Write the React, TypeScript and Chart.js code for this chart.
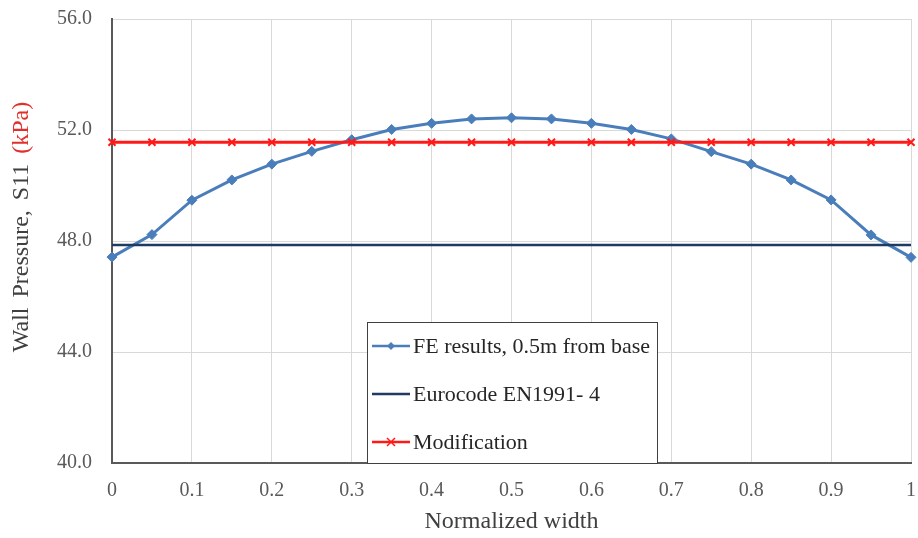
import React, { useEffect, useRef } from 'react';
import { Chart, registerables } from 'chart.js';

Chart.register(...registerables);

// ---- data ----
const xPositions = [0, 0.05, 0.1, 0.15, 0.2, 0.25, 0.3, 0.35, 0.4, 0.45, 0.5, 0.55, 0.6, 0.65, 0.7, 0.75, 0.8, 0.85, 0.9, 0.95, 1];
const feResults = [47.42, 48.23, 49.47, 50.2, 50.77, 51.23, 51.65, 52.02, 52.24, 52.4, 52.44, 52.4, 52.24, 52.02, 51.68, 51.22, 50.77, 50.2, 49.48, 48.22, 47.41];
const eurocodeX = [0, 1];
const eurocodeValues = [47.86, 47.86];
const modificationValues = [51.56, 51.56, 51.56, 51.56, 51.56, 51.56, 51.56, 51.56, 51.56, 51.56, 51.56, 51.56, 51.56, 51.56, 51.56, 51.56, 51.56, 51.56, 51.56, 51.56, 51.56];
const xTickLabels = ['0', '0.1', '0.2', '0.3', '0.4', '0.5', '0.6', '0.7', '0.8', '0.9', '1'];
const yTickLabels = ['40.0', '44.0', '48.0', '52.0', '56.0'];
const seriesNames = ['FE results, 0.5m from base', 'Eurocode EN1991- 4', 'Modification'];

const FONT = '"Liberation Serif", "Times New Roman", serif';
const BLUE = '#4a7ebb';
const NAVY = '#1f3b63';
const RED = '#ff1a1a';

const overlayPlugin = {
  id: 'overlay',
  afterDraw(chart: any) {
    const ctx = chart.ctx as CanvasRenderingContext2D;
    const ca = chart.chartArea;

    // y-axis title with two colours
    ctx.save();
    ctx.translate(22, (ca.top + ca.bottom) / 2 - 14);
    ctx.rotate(-Math.PI / 2);
    ctx.font = '24px ' + FONT;
    (ctx as any).wordSpacing = '4px';
    ctx.textBaseline = 'middle';
    ctx.textAlign = 'left';
    const p1 = 'Wall Pressure, S11 ';
    const p2 = '(kPa)';
    const w1 = ctx.measureText(p1).width;
    const w2 = ctx.measureText(p2).width;
    const sx = -(w1 + w2) / 2;
    ctx.fillStyle = '#404040';
    ctx.fillText(p1, sx, 0);
    ctx.fillStyle = '#e0302c';
    ctx.fillText(p2, sx + w1, 0);
    ctx.restore();

    // legend box
    const bx = ca.left + 255;
    const by = ca.top + 303;
    const bw = 291;
    const bh = ca.bottom - by;
    ctx.save();
    ctx.fillStyle = '#ffffff';
    ctx.fillRect(bx, by, bw, bh);
    ctx.strokeStyle = '#404040';
    ctx.lineWidth = 1;
    ctx.strokeRect(bx + 0.5, by + 0.5, bw - 1, bh);
    const rows = [by + 24, by + 72, by + 120];
    const lx0 = bx + 5;
    const lx1 = bx + 43;
    const mx = (lx0 + lx1) / 2;
    ctx.font = '22px ' + FONT;
    ctx.textBaseline = 'middle';
    ctx.textAlign = 'left';
    // FE
    ctx.strokeStyle = BLUE;
    ctx.lineWidth = 2.5;
    ctx.beginPath(); ctx.moveTo(lx0, rows[0]); ctx.lineTo(lx1, rows[0]); ctx.stroke();
    ctx.fillStyle = BLUE;
    ctx.beginPath();
    ctx.moveTo(mx, rows[0] - 4); ctx.lineTo(mx + 4, rows[0]); ctx.lineTo(mx, rows[0] + 4); ctx.lineTo(mx - 4, rows[0]);
    ctx.closePath(); ctx.fill();
    // Eurocode
    ctx.strokeStyle = NAVY;
    ctx.lineWidth = 2.5;
    ctx.beginPath(); ctx.moveTo(lx0, rows[1]); ctx.lineTo(lx1, rows[1]); ctx.stroke();
    // Modification
    ctx.strokeStyle = RED;
    ctx.lineWidth = 2.5;
    ctx.beginPath(); ctx.moveTo(lx0, rows[2]); ctx.lineTo(lx1, rows[2]); ctx.stroke();
    ctx.lineWidth = 1.5;
    ctx.beginPath();
    ctx.moveTo(mx - 4, rows[2] - 4); ctx.lineTo(mx + 4, rows[2] + 4);
    ctx.moveTo(mx + 4, rows[2] - 4); ctx.lineTo(mx - 4, rows[2] + 4);
    ctx.stroke();
    ctx.fillStyle = '#262626';
    seriesNames.forEach((n, i) => ctx.fillText(n, lx1 + 3, rows[i] + 1));
    ctx.restore();
  },
};

export default function App() {
  const ref = useRef<HTMLCanvasElement | null>(null);
  useEffect(() => {
    if (!ref.current) return;
    const chart = new Chart(ref.current, {
      type: 'line',
      data: {
        datasets: [
          {
            label: seriesNames[0],
            data: xPositions.map((x, i) => ({ x, y: feResults[i] })),
            borderColor: BLUE,
            backgroundColor: BLUE,
            borderWidth: 3,
            pointStyle: 'rectRot',
            pointRadius: 5,
            pointBorderWidth: 1,
            pointBackgroundColor: BLUE,
            pointBorderColor: BLUE,
            tension: 0,
            clip: false as any,
            order: 3,
          },
          {
            label: seriesNames[1],
            data: eurocodeX.map((x, i) => ({ x, y: eurocodeValues[i] })),
            borderColor: NAVY,
            backgroundColor: NAVY,
            borderWidth: 2.5,
            pointRadius: 0,
            tension: 0,
            clip: false as any,
            order: 2,
          },
          {
            label: seriesNames[2],
            data: xPositions.map((x, i) => ({ x, y: modificationValues[i] })),
            borderColor: RED,
            backgroundColor: RED,
            borderWidth: 3,
            pointStyle: 'crossRot',
            pointRadius: 5,
            pointBorderWidth: 2,
            pointBorderColor: RED,
            tension: 0,
            clip: false as any,
            order: 1,
          },
        ],
      },
      options: {
        animation: false,
        responsive: false,
        parsing: false as any,
        layout: { padding: { top: 19, right: 5, left: 0, bottom: 0 } },
        plugins: {
          legend: { display: false },
          tooltip: { enabled: false },
        },
        scales: {
          x: {
            type: 'linear',
            min: 0,
            max: 1,
            afterFit: (s: any) => { s.height = 75; s.paddingLeft = 0; s.paddingRight = 0; },
            ticks: {
              stepSize: 0.1,
              padding: 16,
              color: '#595959',
              font: { family: FONT, size: 20 },
              maxRotation: 0,
              autoSkip: false,
              callback: (v: any) => xTickLabels[Math.round(Number(v) * 10)] ?? '',
            },
            grid: { color: '#d9d9d9', lineWidth: 1, drawTicks: false },
            border: { display: true, color: '#595959', width: 2 },
            title: {
              display: true,
              text: 'Normalized width',
              color: '#404040',
              font: { family: FONT, size: 24 },
              padding: { top: 0, bottom: 2 },
            },
          },
          y: {
            type: 'linear',
            min: 40,
            max: 56,
            afterFit: (s: any) => { s.width = 112; s.paddingTop = 0; s.paddingBottom = 0; },
            ticks: {
              stepSize: 4,
              padding: 20,
              color: '#595959',
              font: { family: FONT, size: 20 },
              callback: (v: any) => yTickLabels[Math.round((Number(v) - 40) / 4)] ?? '',
            },
            grid: { color: '#d9d9d9', lineWidth: 1, drawTicks: false },
            border: { display: true, color: '#595959', width: 2 },
          },
        },
      },
      plugins: [overlayPlugin],
    });
    return () => chart.destroy();
  }, []);
  return (
    <div style={{ position: 'fixed', left: 0, top: 0, width: 918, height: 538, background: '#ffffff' }}>
      <canvas ref={ref} width={918} height={538} style={{ display: 'block' }} />
    </div>
  );
}
